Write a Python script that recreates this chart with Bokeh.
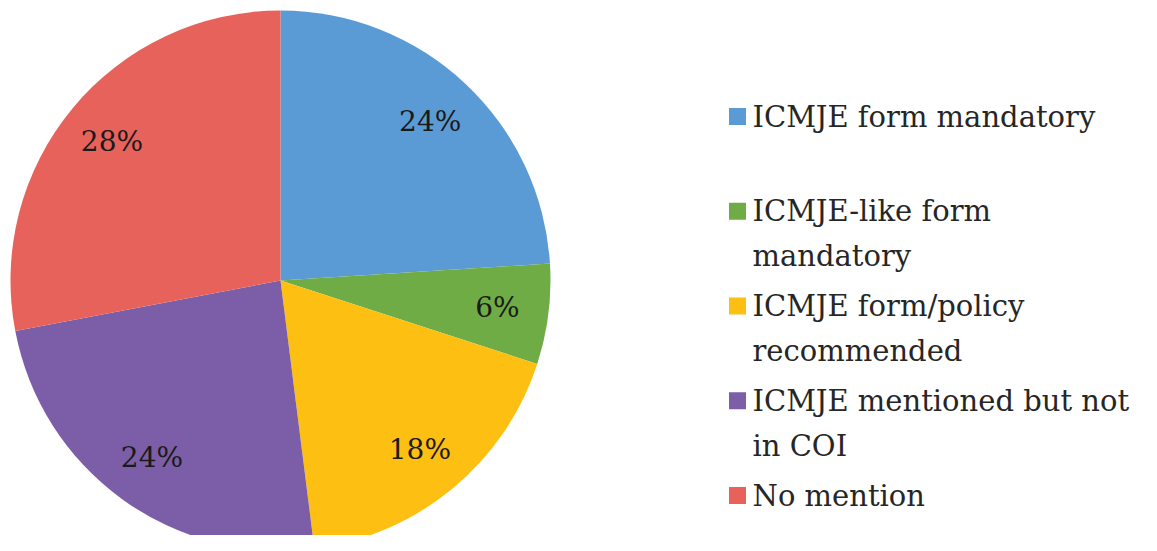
import math
from bokeh.plotting import figure
from bokeh.models import Range1d, ColumnDataSource
from bokeh.core.properties import value
from bokeh.embed import file_html
from bokeh.resources import INLINE

# ---- data ----
categories = [
    "ICMJE form mandatory",
    "ICMJE-like form\nmandatory",
    "ICMJE form/policy\nrecommended",
    "ICMJE mentioned but not\nin COI",
    "No mention",
]
percent = [24, 6, 18, 24, 28]
colors = ["#5B9BD5", "#6FAC46", "#FDBF12", "#7B5EA7", "#E8625C"]

# ---- layout (reference pixel coordinates; y is negated) ----
W, H = 1141, 535
CX, CY, R = 280, -280, 270
LABEL_R = 0.81 * R
FONT = value("DejaVu Serif")

p = figure(width=W, height=H, output_backend="svg", toolbar_location=None,
           x_range=Range1d(0, W), y_range=Range1d(-H, 0),
           min_border=0)
p.axis.visible = False
p.grid.visible = False
p.outline_line_color = None
p.background_fill_color = "white"
p.border_fill_color = "white"

total = sum(percent)
starts, ends, lx, ly, labels = [], [], [], [], []
cum = 0
for v in percent:
    a0 = math.pi / 2 - 2 * math.pi * cum / total
    a1 = math.pi / 2 - 2 * math.pi * (cum + v) / total
    starts.append(a0)
    ends.append(a1)
    mid = (a0 + a1) / 2
    lx.append(CX + LABEL_R * math.cos(mid))
    ly.append(CY + LABEL_R * math.sin(mid))
    labels.append(f"{v}%")
    cum += v

src = ColumnDataSource(dict(start=starts, end=ends, color=colors,
                            lx=lx, ly=ly, label=labels))
p.wedge(x=CX, y=CY, radius=R, start_angle="start", end_angle="end",
        direction="clock", fill_color="color", line_color=None, source=src)
p.text(x="lx", y="ly", text="label", source=src,
       text_font=FONT, text_font_size="28px",
       text_color="#1a1a1a", text_align="center", text_baseline="middle")

# ---- legend ----
SQ_X, TXT_X = 737, 752
FIRST_Y, SLOT, LINE = 116, 94.75, 45
sq_x, sq_y, sq_c = [], [], []
tx, ty, tt = [], [], []
for i, (cat, c) in enumerate(zip(categories, colors)):
    y0 = FIRST_Y + i * SLOT
    sq_x.append(SQ_X)
    sq_y.append(-y0)
    sq_c.append(c)
    for j, line in enumerate(cat.split("\n")):
        tx.append(TXT_X)
        ty.append(-(y0 + j * LINE))
        tt.append(line)

p.rect(x=sq_x, y=sq_y, width=17, height=17, fill_color=sq_c, line_color=None)
p.text(x=tx, y=ty, text=tt, text_font=FONT,
       text_font_size="29px", text_color="#262626",
       text_align="left", text_baseline="middle")

open("out.html", "w").write(file_html(p, INLINE))
